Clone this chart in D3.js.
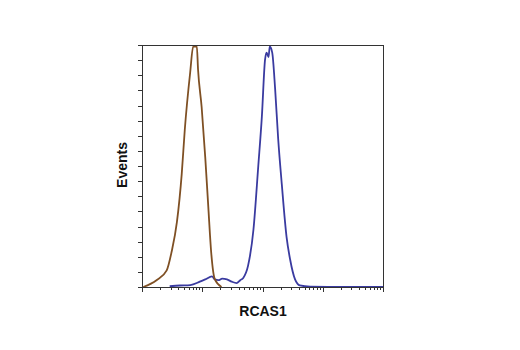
<!DOCTYPE html>
<html>
<head>
<meta charset="utf-8">
<script src="https://cdn.jsdelivr.net/npm/d3@7"></script>
<style>
  body { margin: 0; background: #fff; }
  .lbl { font-family: "Liberation Sans", Arial, sans-serif; font-weight: bold; font-size: 14px; fill: #111; }
  .tick line, .domain { shape-rendering: crispEdges; }
</style>
</head>
<body>
<div id="chart"></div>
<script>
// control (isotype) histogram: intensity, events
var controlX = [1.05, 1.74, 2.57, 3.09, 3.80, 4.57, 5.13, 6.31, 7.08, 8.13, 8.51, 9.77, 11.2, 12.6, 14.1, 16.2, 20.9];
var controlY = [0, 0.45, 1.1, 2.3, 4.3, 7.5, 10.4, 14.2, 15.9, 15.9, 14.4, 11.9, 8.6, 5.3, 2.25, 0.5, 0];

// RCAS1 stained histogram
var rcasX = [2.88, 4.27, 6.31, 9.12, 11.2, 14.5, 16.2, 18.6, 21.4, 25.7, 30.9, 37.2, 42.7, 47.9, 57.5, 70.8, 85.1, 97.7, 110, 117, 126, 132, 145, 162, 182, 209, 251, 288, 347, 417, 617, 1585, 10000];
var rcasY = [0.05, 0.1, 0.13, 0.35, 0.5, 0.7, 0.5, 0.45, 0.55, 0.5, 0.35, 0.26, 0.45, 0.6, 1.4, 3.8, 8.0, 11.3, 15.0, 15.5, 15.2, 15.9, 15.5, 13.1, 9.8, 6.8, 3.3, 1.8, 0.5, 0.1, 0.02, 0.01, 0];

var xDomain = [1, 10000];
var yMax = 16;

var width = 520, height = 350;
var margin = {top: 45, right: 137, bottom: 63, left: 142};
var w = width - margin.left - margin.right;
var h = height - margin.top - margin.bottom;

var svg = d3.select("#chart").append("svg")
    .attr("width", width)
    .attr("height", height);

var g = svg.append("g")
    .attr("transform", "translate(" + margin.left + "," + margin.top + ")");

var x = d3.scaleLog().domain(xDomain).range([0, w]);
var y = d3.scaleLinear().domain([0, yMax]).range([h, 0]);

var line = d3.line()
    .x(function(d) { return x(d[0]); })
    .y(function(d) { return y(d[1]); })
    .curve(d3.curveMonotoneX);

var control = d3.zip(controlX, controlY);
var rcas = d3.zip(rcasX, rcasY);

g.append("path")
    .datum(rcas)
    .attr("d", line)
    .attr("fill", "none")
    .attr("stroke", "#3a3ba0")
    .attr("stroke-width", 1.8);

g.append("path")
    .datum(control)
    .attr("d", line)
    .attr("fill", "none")
    .attr("stroke", "#7f5024")
    .attr("stroke-width", 1.8);

// frame
g.append("rect")
    .attr("width", w)
    .attr("height", h)
    .attr("fill", "none")
    .attr("stroke", "#333")
    .attr("stroke-width", 1)
    .style("shape-rendering", "crispEdges");

// x axis, log decades with minor ticks
var xTicks = x.ticks();
var xAxis = g.append("g")
    .attr("transform", "translate(0," + h + ")")
    .call(d3.axisBottom(x).tickValues(xTicks).tickFormat("").tickSizeOuter(0).tickSize(3));
xAxis.selectAll(".tick line")
    .attr("y2", function(d) { return Math.abs(Math.log10(d) % 1) < 1e-9 ? 5 : 3; });
xAxis.select(".domain").attr("stroke", "#333");
xAxis.selectAll(".tick line").attr("stroke", "#333");

// y axis, unlabeled ticks
var yAxis = g.append("g")
    .call(d3.axisLeft(y).ticks(16).tickFormat("").tickSizeOuter(0).tickSize(4));
yAxis.select(".domain").attr("stroke", "#333");
yAxis.selectAll(".tick line").attr("stroke", "#333");

svg.append("text")
    .attr("class", "lbl")
    .attr("transform", "translate(127," + (margin.top + h / 2 - 1) + ") rotate(-90)")
    .attr("text-anchor", "middle")
    .text("Events");

svg.append("text")
    .attr("class", "lbl")
    .attr("x", 263)
    .attr("y", 316)
    .attr("text-anchor", "middle")
    .text("RCAS1");
</script>
</body>
</html>
